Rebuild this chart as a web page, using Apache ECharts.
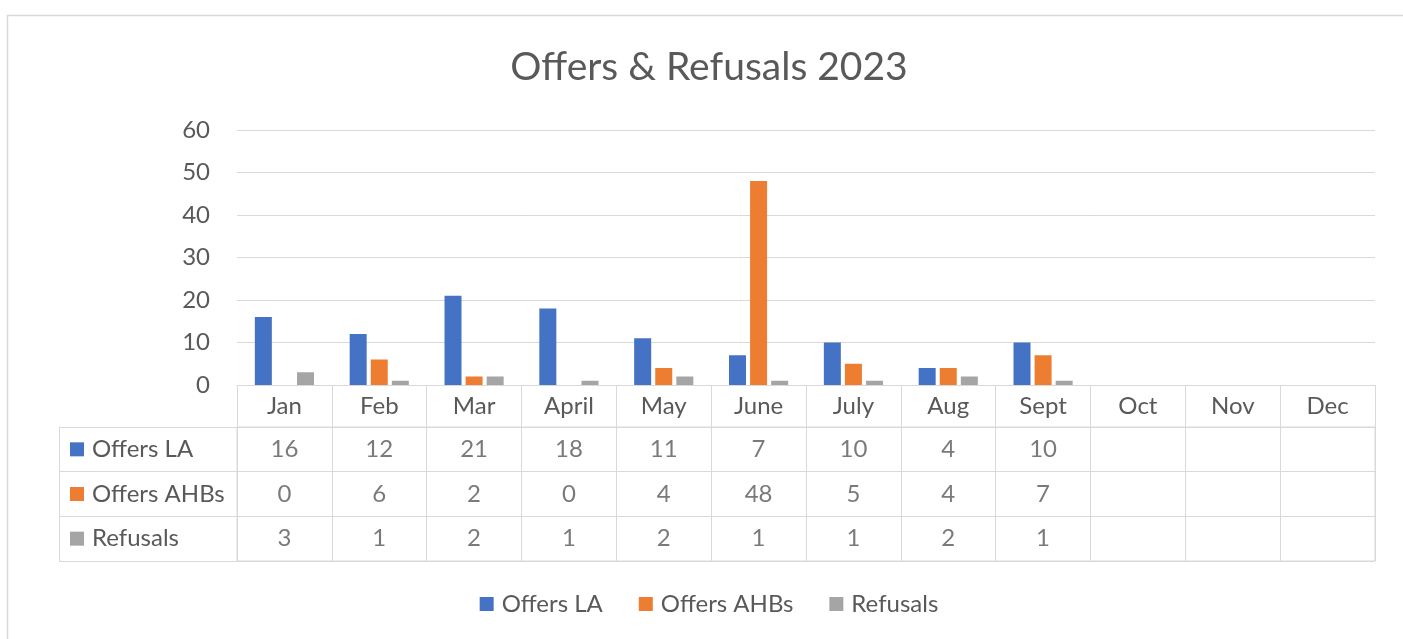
<!DOCTYPE html>
<html>
<head>
<meta charset="utf-8">
<title>Offers & Refusals 2023</title>
<script src="https://cdn.jsdelivr.net/npm/echarts@6/dist/echarts.min.js"></script>
<style>
html, body { margin: 0; padding: 0; background: #fff; overflow: hidden; }
#myChart { width: 1418px; height: 639px; }
</style>
</head>
<body>
<div id="myChart"></div>
<script>
// data
var months = ['Jan', 'Feb', 'Mar', 'April', 'May', 'June', 'July', 'Aug', 'Sept', 'Oct', 'Nov', 'Dec'];
var seriesNames = ['Offers LA', 'Offers AHBs', 'Refusals'];
var offersLA = [16, 12, 21, 18, 11, 7, 10, 4, 10, null, null, null];
var offersAHBs = [0, 6, 2, 0, 4, 48, 5, 4, 7, null, null, null];
var refusals = [3, 1, 2, 1, 2, 1, 1, 2, 1, null, null, null];
var colors = ['#4472C4', '#ED7D31', '#A5A5A5'];

var textColor = '#595959';
var lineColor = '#d9d9d9';
var fontSize = 24;

var myChart = echarts.init(document.getElementById('myChart'));

// table cells -> points on the table grid (column = month, row = series)
var allData = [offersLA, offersAHBs, refusals];
var cellData = [];
for (var r = 0; r < allData.length; r++) {
    for (var c = 0; c < months.length; c++) {
        if (allData[r][c] != null) {
            cellData.push([c, r, allData[r][c]]);
        }
    }
}

// row header label: coloured square + name
var rich = {
    t: { color: textColor, fontSize: fontSize, padding: [0, 0, 0, 8] }
};
for (var k = 0; k < colors.length; k++) {
    rich['m' + k] = { width: 14, height: 14, backgroundColor: colors[k] };
}

var barSeries = [];
for (var s = 0; s < seriesNames.length; s++) {
    barSeries.push({
        name: seriesNames[s],
        type: 'bar',
        xAxisIndex: 0,
        yAxisIndex: 0,
        barWidth: 17,
        barGap: '24%',
        itemStyle: { color: colors[s] },
        data: allData[s]
    });
}

var option = {
    textStyle: { fontFamily: 'Lato' },
    title: {
        text: 'Offers & Refusals 2023',
        left: 'center',
        top: 43,
        textStyle: { color: textColor, fontSize: 39, fontWeight: 'normal' }
    },
    legend: {
        data: seriesNames,
        bottom: 18,
        left: 'center',
        icon: 'rect',
        itemWidth: 14,
        itemHeight: 14,
        itemGap: 36,
        textStyle: { color: textColor, fontSize: fontSize, padding: [0, 0, 0, 3] }
    },
    graphic: [{
        type: 'rect',
        shape: { x: 7.5, y: 15.5, width: 1500, height: 700 },
        style: { fill: 'none', stroke: lineColor, lineWidth: 1.5 },
        silent: true,
        z: -1
    }],
    grid: [
        { left: 237, right: 43, top: 130, height: 255 },
        { left: 237, right: 43, top: 427, height: 134, show: true, borderColor: lineColor, borderWidth: 1 }
    ],
    xAxis: [{
        type: 'category',
        gridIndex: 0,
        data: months,
        axisLine: { lineStyle: { color: lineColor } },
        axisTick: { show: true, interval: 0, length: 42, lineStyle: { color: lineColor } },
        axisLabel: { interval: 0, margin: 21, verticalAlign: 'middle', color: textColor, fontSize: fontSize }
    }, {
        type: 'category',
        gridIndex: 1,
        data: months,
        axisLine: { show: false },
        axisTick: { show: false },
        axisLabel: { show: false },
        splitLine: { show: true, interval: 0, lineStyle: { color: lineColor } }
    }],
    yAxis: [{
        type: 'value',
        gridIndex: 0,
        min: 0,
        max: 60,
        interval: 10,
        axisLine: { show: false },
        axisTick: { show: false },
        axisLabel: { margin: 27, color: textColor, fontSize: fontSize },
        splitLine: { lineStyle: { color: lineColor } }
    }, {
        type: 'category',
        gridIndex: 1,
        inverse: true,
        data: seriesNames,
        axisLine: { show: true, lineStyle: { color: lineColor } },
        axisTick: { show: true, interval: 0, length: 178, lineStyle: { color: lineColor } },
        axisLabel: {
            interval: 0,
            align: 'left',
            margin: 167,
            formatter: function (v, i) {
                return '{m' + i + '|}{t|' + v + '}';
            },
            rich: rich
        },
        splitLine: { show: true, interval: 0, lineStyle: { color: lineColor } }
    }, {
        // left edge of the row header column
        type: 'category',
        gridIndex: 1,
        position: 'left',
        offset: 178,
        data: seriesNames,
        axisLine: { show: true, lineStyle: { color: lineColor } },
        axisTick: { show: false },
        axisLabel: { show: false }
    }],
    series: barSeries.concat([{
        name: 'table',
        type: 'scatter',
        xAxisIndex: 1,
        yAxisIndex: 1,
        symbolSize: 1,
        itemStyle: { color: 'rgba(0,0,0,0)' },
        label: {
            show: true,
            position: 'inside',
            color: textColor,
            fontSize: fontSize,
            formatter: function (p) { return p.value[2]; }
        },
        silent: true,
        data: cellData
    }])
};

myChart.setOption(option);
</script>
</body>
</html>
